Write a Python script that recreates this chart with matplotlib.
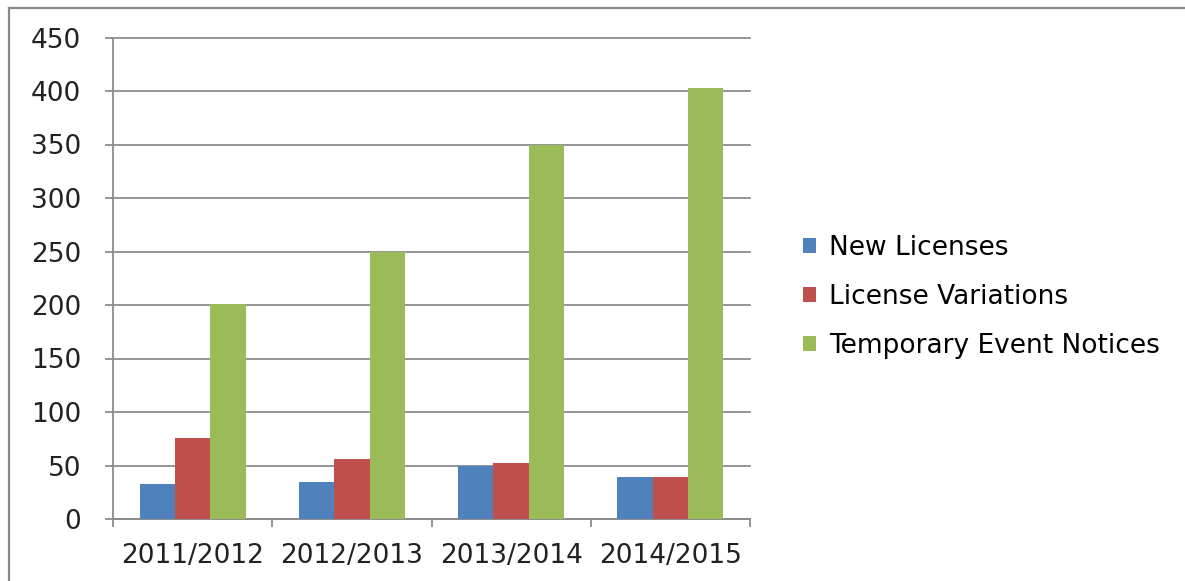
import numpy as np
import matplotlib.pyplot as plt
from matplotlib.lines import Line2D
from matplotlib.patches import Patch

years = ["2011/2012", "2012/2013", "2013/2014", "2014/2015"]
new_licenses = [33, 35, 50, 39]
license_variations = [76, 56, 52, 39]
temp_event_notices = [201, 250, 350, 403]

series = [("New Licenses", new_licenses, "#4F81BD"),
          ("License Variations", license_variations, "#C0504D"),
          ("Temporary Event Notices", temp_event_notices, "#9BBB59")]

W, H = 1185, 581
fig = plt.figure(figsize=(W / 100, H / 100), dpi=100)
ax = fig.add_axes([113 / W, 1 - 519 / H, 637 / W, 481.5 / H])

x = np.arange(len(years))
bw = 1 / 4.5
for i, (name, vals, col) in enumerate(series):
    ax.bar(x + (i - 1) * bw, vals, bw, color=col, label=name, zorder=3)

ax.set_xlim(-0.5, len(years) - 0.5)
ax.set_ylim(0, 450)
ax.set_yticks(np.arange(0, 451, 50))
ax.yaxis.grid(True, color="#8c8c8c", linewidth=1.3, zorder=0)
for gl in ax.yaxis.get_gridlines():
    gl.set_clip_on(False)

for s in ["top", "right"]:
    ax.spines[s].set_visible(False)
for s in ["left", "bottom"]:
    ax.spines[s].set_color("#8c8c8c")
    ax.spines[s].set_linewidth(1.3)

fs = 19
ax.set_xticks(x)
ax.set_xticklabels(years)
ax.set_xticks(np.arange(-0.5, len(years), 1), minor=True)
ax.tick_params(axis="x", which="major", length=0, pad=17, labelsize=fs, labelcolor="#222222")
ax.tick_params(axis="x", which="minor", length=6, color="#8c8c8c", width=1.3)
ax.tick_params(axis="y", length=6, color="#8c8c8c", width=1.3, pad=17,
               labelsize=fs, labelcolor="#222222")

handles = [Patch(facecolor=c, edgecolor="none") for _, _, c in series]
labels = [n for n, _, _ in series]
fig.legend(handles, labels, loc="center left", bbox_to_anchor=(803 / W, 1 - 297 / H),
           frameon=False, fontsize=fs, handlelength=0.5, handleheight=0.5,
           handletextpad=0.5, labelspacing=0.87, borderpad=0, borderaxespad=0)

# outer chart border (only top and left edges visible)
fig.add_artist(Line2D([9 / W, 1], [1 - 8 / H, 1 - 8 / H], color="#888888", linewidth=1.6))
fig.add_artist(Line2D([9 / W, 9 / W], [0, 1 - 8 / H], color="#888888", linewidth=1.6))

fig.savefig("out.png", dpi=100)
